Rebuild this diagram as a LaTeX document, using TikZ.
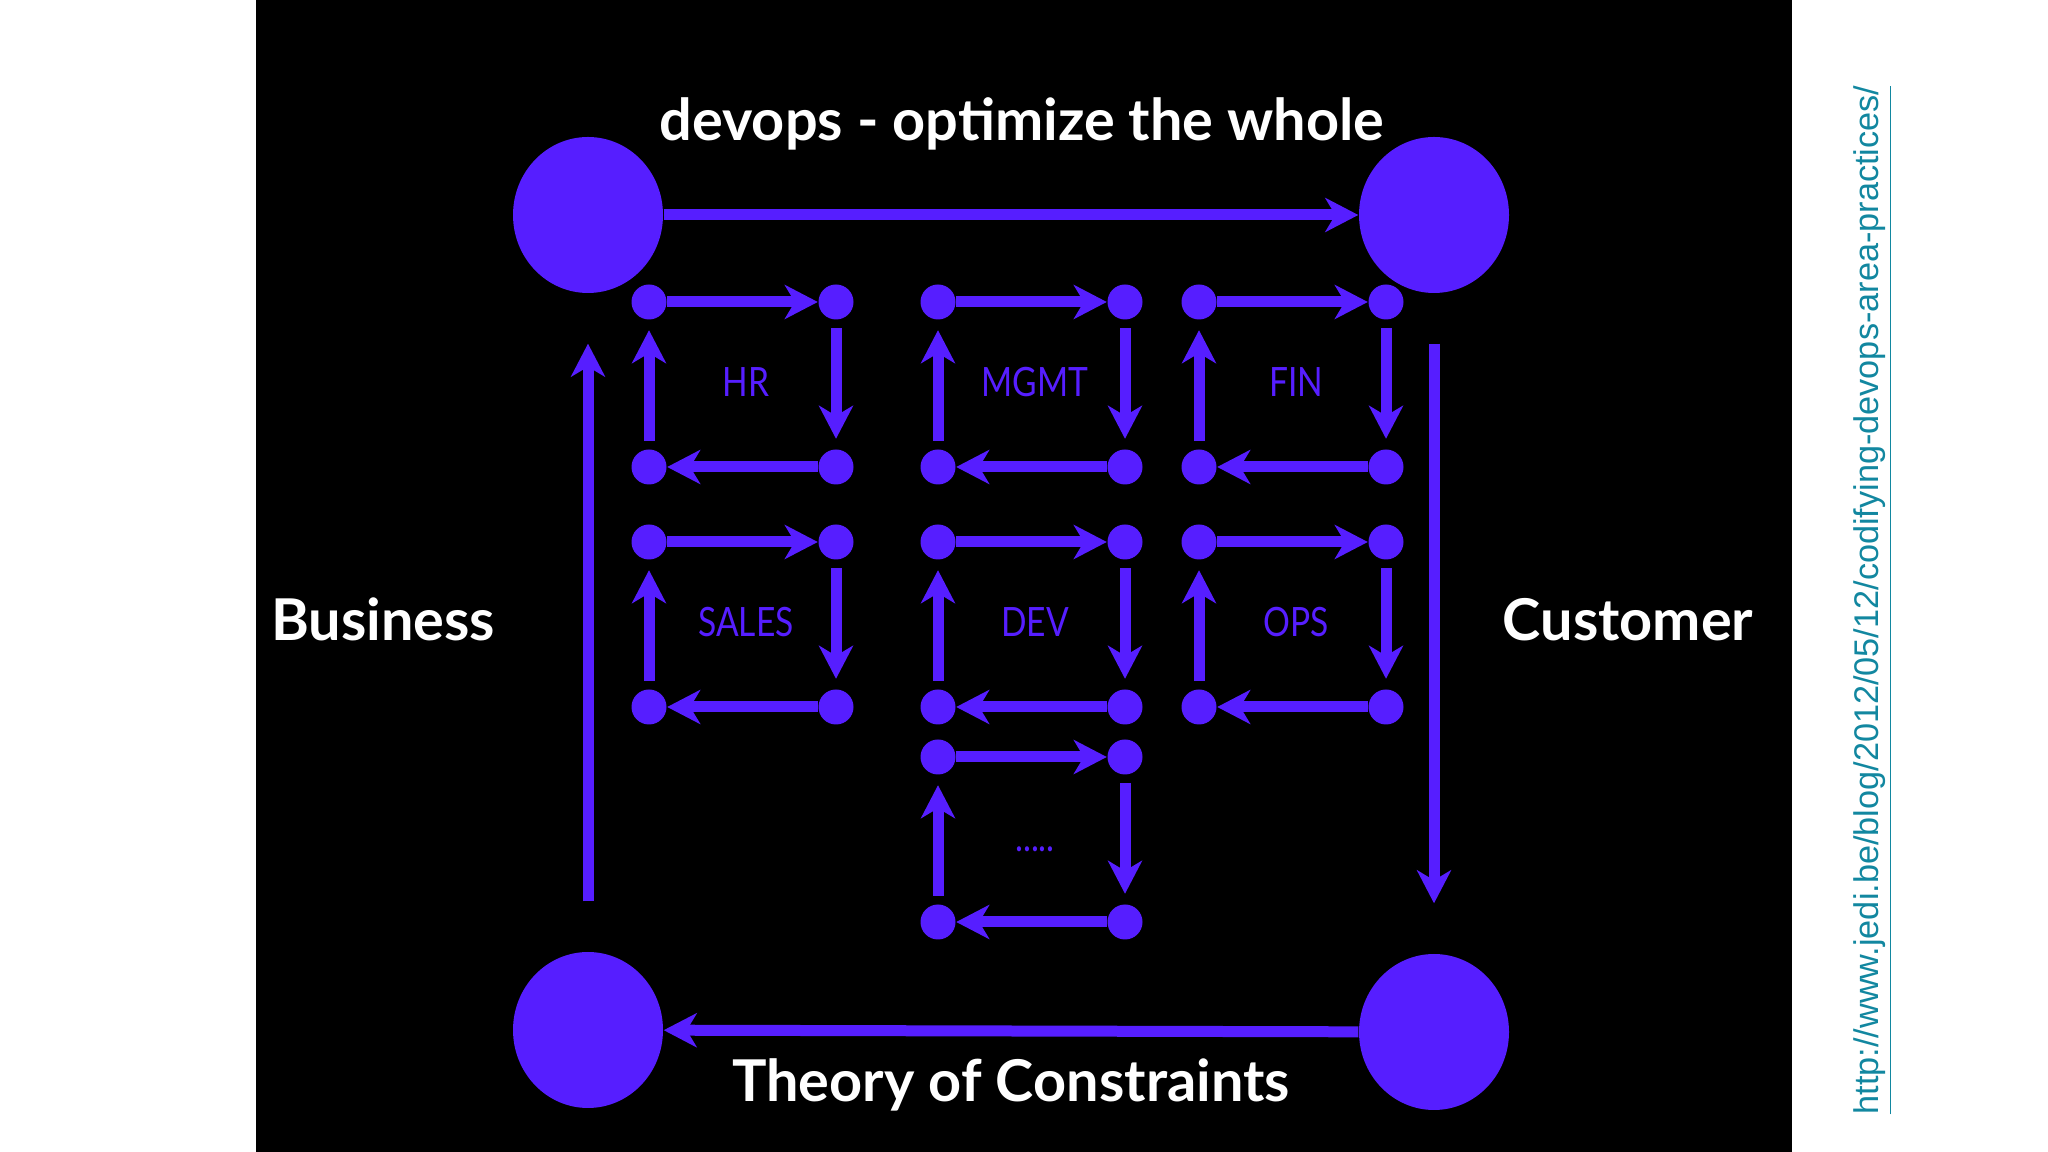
\documentclass[tikz,border=0pt]{standalone}
\usepackage{fontspec}
\setmainfont{Lato}
\setsansfont{Liberation Sans}
\usetikzlibrary{arrows.meta,shapes.geometric}
\definecolor{loopblue}{RGB}{86,30,255}
\definecolor{linkteal}{RGB}{18,135,160}
\newcommand{\moredots}{\vphantom{A}.....}

\begin{document}
\begin{tikzpicture}[
    x=0.1mm, y=-0.1mm,
    hub/.style={ellipse, fill=loopblue, minimum width=15mm, minimum height=15.6mm, inner sep=0pt},
    dot/.style={circle, fill=loopblue, minimum size=3.5mm, inner sep=0pt},
    flow/.style={-{Stealth[length=3.3mm, width=3.4mm, inset=1mm]}, line width=1.1mm, draw=loopblue},
    side/.style={flow, shorten >=1mm, shorten <=0.8mm},
    tag/.style={text=loopblue, font=\fontsize{11.5}{12}\selectfont},
    heading/.style={text=white, anchor=base, font=\bfseries\fontsize{16.4}{18}\selectfont}
  ]
  \useasboundingbox (0,0) rectangle (2048,1152);
  \fill[black] (256,0) rectangle (1792,1152);

  % the four corners
  \node[hub] (nw) at (588,215) {};
  \node[hub] (ne) at (1434,215) {};
  \node[hub] (se) at (1434,1032) {};
  \node[hub] (sw) at (588,1030) {};
  \draw[flow] (nw) -- (ne);
  \draw[flow, shorten >=5mm, shorten <=5mm] (ne) -- (se);
  \draw[flow] (se) -- (sw);
  \draw[flow, shorten >=5mm, shorten <=5mm] (sw) -- (nw);

  \node[heading] (title) at (1022,141) {devops - optimize the whole};
  \node[heading] (business) at (383,641) {Business};
  \node[heading] (customer) at (1628,641) {Customer};
  \node[heading] (toc) at (1011,1101) {Theory of Constraints};

  % one small loop per department
  \foreach \name/\x/\y/\txt in {hr/649/302/HR, mgmt/938/302/MGMT, fin/1199/302/FIN,
      sales/649/542/SALES, dev/938/542/DEV, ops/1199/542/OPS, more/938/757/\moredots} {
    \node[dot] (\name-a) at (\x,\y) {};
    \node[dot] (\name-b) at (\x+187,\y) {};
    \node[dot] (\name-c) at (\x+187,\y+165) {};
    \node[dot] (\name-d) at (\x,\y+165) {};
    \node[tag] (\name-tag) at (\x+97,\y+80) {\scalebox{0.83}[1]{\txt}};
    \draw[flow] (\name-a) -- (\name-b);
    \draw[side] (\name-b) -- (\name-c);
    \draw[flow] (\name-c) -- (\name-d);
    \draw[side] (\name-d) -- (\name-a);
  }

  \node[rotate=90, text=linkteal, font=\sffamily\fontsize{9.75}{10}\selectfont] (link) at (1873,600)
    {\underline{http://www.jedi.be/blog/2012/05/12/codifying-devops-area-practices/}};
\end{tikzpicture}
\end{document}
